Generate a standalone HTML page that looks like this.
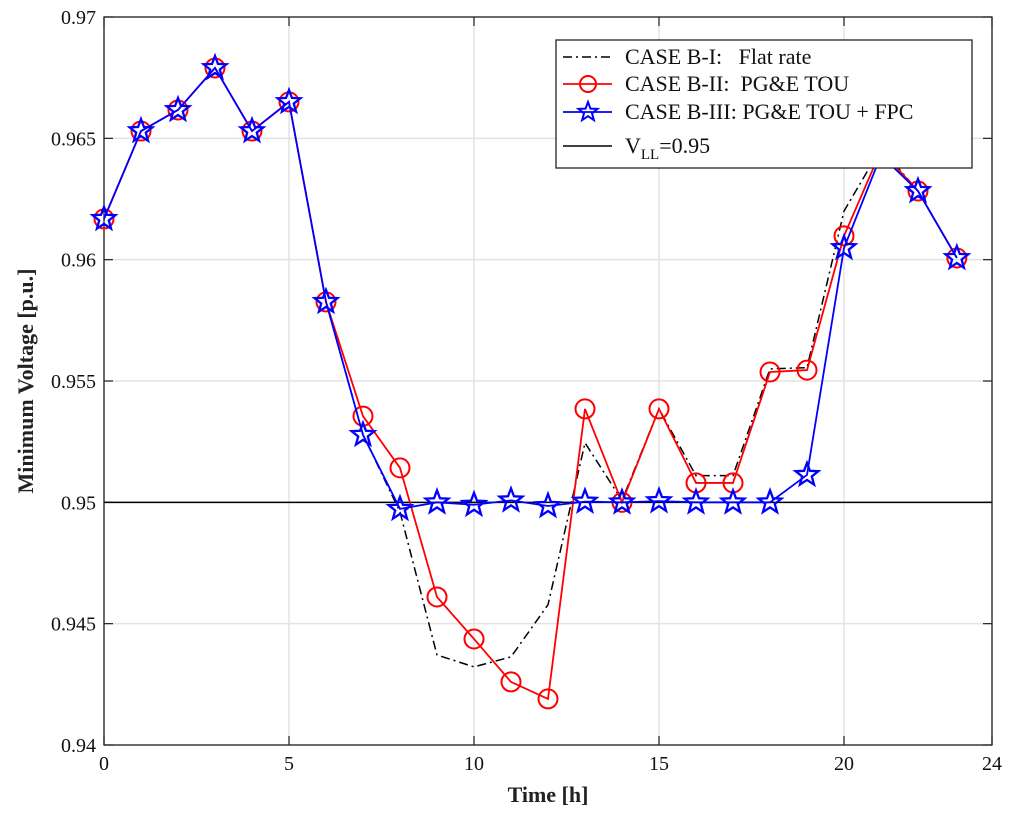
<!DOCTYPE html>
<html><head><meta charset="utf-8"><style>
html,body{margin:0;padding:0;background:#fff;}
svg{display:block;font-family:"Liberation Serif",serif;}
</style></head><body>
<svg id="chart" width="1024" height="819" viewBox="0 0 1024 819" xmlns="http://www.w3.org/2000/svg"></svg>
<script>
const hours = [0,1,2,3,4,5,6,7,8,9,10,11,12,13,14,15,16,17,18,19,20,21,22,23.05];
const flatRate = [0.96168,0.9653,0.96617,0.9679,0.9653,0.9665,0.95826,0.9528,0.9496,0.94371,0.94322,0.94363,0.94578,0.95245,0.95008,0.95385,0.9511,0.9511,0.9555,0.95555,0.962,0.9646,0.96283,0.96007];
const tou = [0.96168,0.9653,0.96617,0.9679,0.9653,0.9665,0.95826,0.95355,0.95142,0.9461,0.94437,0.9426,0.9419,0.95385,0.95,0.95385,0.9508,0.9508,0.95537,0.95545,0.96098,0.9645,0.96283,0.96007];
const touFpc = [0.96168,0.9653,0.96617,0.9679,0.9653,0.9665,0.95826,0.95278,0.94973,0.95,0.9499,0.95008,0.94985,0.95003,0.95,0.95005,0.95,0.95,0.95,0.95113,0.96048,0.9643,0.96283,0.96007];
const vLL = 0.95;
const xTicks = [0,5,10,15,20,24];
const yTicks = [0.94,0.945,0.95,0.955,0.96,0.965,0.97];
const yTickLabels = ["0.94","0.945","0.95","0.955","0.96","0.965","0.97"];

const L=104,R=992,T=17,B=745;
const xS = v => L + (v-0)/(24-0)*(R-L);
const yS = v => B - (v-0.94)/(0.97-0.94)*(B-T);
const NS="http://www.w3.org/2000/svg";
const svg=document.getElementById('chart');
function el(tag,attrs,parent){const e=document.createElementNS(NS,tag);for(const k in attrs)e.setAttribute(k,attrs[k]);(parent||svg).appendChild(e);return e;}

const grid=el('g',{});


xTicks.forEach(t=>{el('line',{x1:xS(t),x2:xS(t),y1:T,y2:B,stroke:'#e3e3e3','stroke-width':1.5},grid);});
yTicks.forEach(t=>{el('line',{x1:L,x2:R,y1:yS(t),y2:yS(t),stroke:'#e3e3e3','stroke-width':1.5},grid);});

const axes=el('g',{});


xTicks.forEach(t=>{
  el('line',{x1:xS(t),x2:xS(t),y1:B,y2:B-9,stroke:'#222','stroke-width':1.2},axes);
  el('line',{x1:xS(t),x2:xS(t),y1:T,y2:T+9,stroke:'#222','stroke-width':1.2},axes);
  const tx=el('text',{x:xS(t),y:B+25,'text-anchor':'middle','font-size':20,fill:'#111'},axes);
  tx.textContent=t;
  
  
});
yTicks.forEach((t,i)=>{
  el('line',{x1:L,x2:L+9,y1:yS(t),y2:yS(t),stroke:'#222','stroke-width':1.2},axes);
  el('line',{x1:R,x2:R-9,y1:yS(t),y2:yS(t),stroke:'#222','stroke-width':1.2},axes);
  const tx=el('text',{x:L-8,y:yS(t)+7,'text-anchor':'end','font-size':20,fill:'#111'},axes);
  tx.textContent=yTickLabels[i];
  
  
});
el('rect',{x:L,y:T,width:R-L,height:B-T,fill:'none',stroke:'#222','stroke-width':1.3},axes);

const xt=el('text',{x:(L+R)/2,y:802,'text-anchor':'middle','font-size':22,'font-weight':'bold',fill:'#222'});
xt.textContent='Time [h]';


const yt=el('text',{x:0,y:0,'text-anchor':'middle','font-size':22,'font-weight':'bold',fill:'#222',transform:`translate(33,${(T+B)/2}) rotate(-90)`});
yt.textContent='Minimum Voltage [p.u.]';



const vl=el('line',{x1:L,x2:R,y1:yS(vLL),y2:yS(vLL),stroke:'#000','stroke-width':1.5});



function pts(arr){return arr.map((v,i)=>xS(hours[i])+','+yS(v)).join(' ');}
function starPath(cx,cy,r){let d='';for(let i=0;i<10;i++){const a=-Math.PI/2+i*Math.PI/5;const rr=i%2?r*0.42:r;d+=(i?'L':'M')+(cx+rr*Math.cos(a)).toFixed(2)+','+(cy+rr*Math.sin(a)).toFixed(2);}return d+'Z';}

const s1=el('polyline',{points:pts(flatRate),fill:'none',stroke:'#000','stroke-width':1.5,'stroke-dasharray':'9,4,2,4'});



const g2=el('g',{});


el('polyline',{points:pts(tou),fill:'none',stroke:'#f00','stroke-width':1.8},g2);
tou.forEach((v,i)=>{
  const c=el('circle',{cx:xS(hours[i]),cy:yS(v),r:9.5,fill:'none',stroke:'#f00','stroke-width':2},g2);
  
  
});

const g3=el('g',{});


el('polyline',{points:pts(touFpc),fill:'none',stroke:'#00f','stroke-width':1.8},g3);
touFpc.forEach((v,i)=>{
  const p=el('path',{d:starPath(xS(hours[i]),yS(v),12),fill:'none',stroke:'#00f','stroke-width':2.3},g3);
  
  
});

const lg=el('g',{});


el('rect',{x:556,y:40,width:416,height:128,fill:'#fff',stroke:'#222','stroke-width':1.3},lg);
const entries=[
 {y:57,label:'CASE B-I:   Flat rate',type:'dash'},
 {y:84,label:'CASE B-II:  PG&E TOU',type:'circle'},
 {y:112,label:'CASE B-III: PG&E TOU + FPC',type:'star'},
 {y:146,label:'',type:'solid'}
];
entries.forEach(e=>{
  const g=el('g',{},lg);
  
  
  if(e.type==='dash') el('line',{x1:563,x2:612,y1:e.y,y2:e.y,stroke:'#000','stroke-width':1.5,'stroke-dasharray':'9,4,2,4'},g);
  if(e.type==='circle'){el('line',{x1:563,x2:612,y1:e.y,y2:e.y,stroke:'#f00','stroke-width':1.8},g);el('circle',{cx:588,cy:e.y,r:8,fill:'none',stroke:'#f00','stroke-width':2},g);}
  if(e.type==='star'){el('line',{x1:563,x2:612,y1:e.y,y2:e.y,stroke:'#00f','stroke-width':1.8},g);el('path',{d:starPath(588,e.y,10),fill:'none',stroke:'#00f','stroke-width':2},g);}
  if(e.type==='solid') el('line',{x1:563,x2:612,y1:e.y,y2:e.y,stroke:'#000','stroke-width':1.5},g);
  const t=el('text',{x:625,y:e.y+7,'font-size':22,fill:'#111'},g);
  t.setAttribute('style','white-space:pre');
  if(e.type==='solid'){
    t.innerHTML='V<tspan font-size="15" dy="6">LL</tspan><tspan dy="-6">=0.95</tspan>';
  } else t.textContent=e.label;
});
</script>
</body></html>
